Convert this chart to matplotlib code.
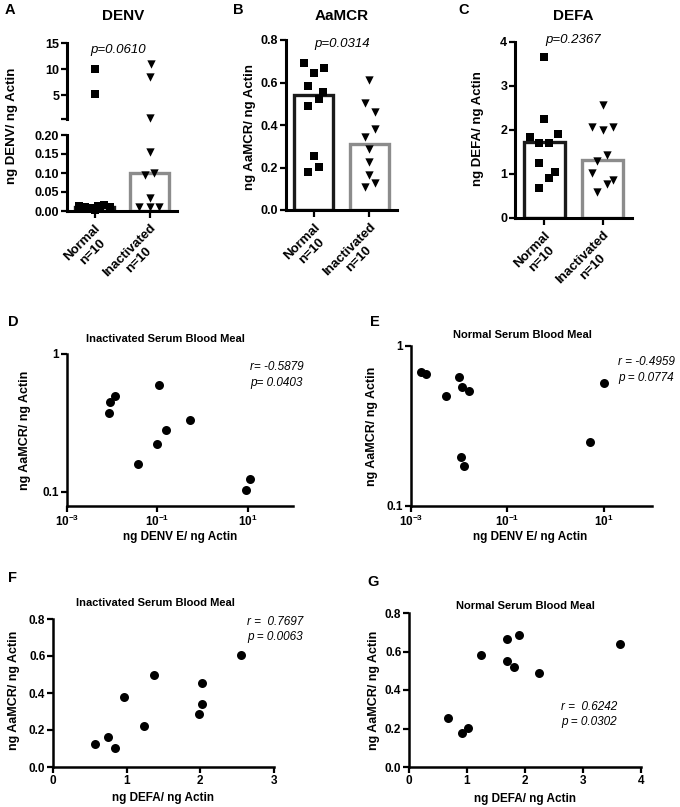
import matplotlib.pyplot as plt
from matplotlib.ticker import NullLocator

plt.rcParams['font.family'] = ['Liberation Sans', 'DejaVu Sans']
plt.rcParams['font.weight'] = 'bold'
plt.rcParams['mathtext.fontset'] = 'custom'
plt.rcParams['mathtext.rm'] = 'Liberation Sans:bold'
plt.rcParams['mathtext.bf'] = 'Liberation Sans:bold'

W, H = 680, 807

groups = ['Normal\nn=10', 'Inactivated\nn=10']
bar_edges = ['#1a1a1a', '#8c8c8c']

# A - DENV (bar = median)
denv_normal = [10.0, 5.2, 0.012, 0.010, 0.008, 0.003, 0.013, 0.015, 0.011, 0.005]
denv_normal_dx = [0, 0, -0.28, -0.17, -0.07, 0.0, 0.07, 0.17, 0.28, 0.1]
denv_inact = [11.0, 8.5, 0.6, 0.155, 0.10, 0.095, 0.035, 0.01, 0.01, 0.01]
denv_inact_dx = [0.03, 0, 0, 0, 0.09, -0.09, 0, -0.19, 0, 0.18]
denv_bar = [0.0105, 0.10]

# B - AaMCR
mcr_normal = [0.690, 0.646, 0.667, 0.585, 0.554, 0.521, 0.491, 0.254, 0.204, 0.179]
mcr_normal_dx = [-0.18, 0.0, 0.18, -0.095, 0.17, 0.095, -0.095, 0.0, 0.095, -0.095]
mcr_inact = [0.612, 0.505, 0.461, 0.383, 0.342, 0.289, 0.227, 0.166, 0.129, 0.110]
mcr_inact_dx = [0, -0.083, 0.095, 0.095, -0.083, 0, 0, 0, 0.095, -0.083]
mcr_bar = [0.54, 0.31]

# C - DEFA
defa_normal = [3.66, 2.26, 1.83, 1.90, 1.70, 1.70, 1.26, 1.04, 0.92, 0.68]
defa_normal_dx = [0, 0, -0.25, 0.24, -0.085, 0.085, -0.085, 0.18, 0.085, -0.085]
defa_inact = [2.57, 2.06, 2.00, 2.06, 1.43, 1.29, 1.02, 0.87, 0.78, 0.60]
defa_inact_dx = [0, -0.18, 0, 0.17, 0.08, -0.1, -0.18, 0.17, 0.08, -0.1]
defa_bar = [1.72, 1.32]

# D - inactivated, DENV E vs AaMCR
d_denv = [0.0084, 0.0089, 0.0113, 0.107, 0.532, 0.153, 0.097, 0.037, 8.9, 11.3]
d_mcr = [0.374, 0.449, 0.493, 0.600, 0.332, 0.283, 0.223, 0.160, 0.104, 0.124]

# E - normal, DENV E vs AaMCR
e_denv = [0.00159, 0.00205, 0.0052, 0.0098, 0.0116, 0.0161, 0.0110, 0.0123, 5.19, 10.0]
e_mcr = [0.684, 0.665, 0.489, 0.643, 0.552, 0.521, 0.201, 0.178, 0.252, 0.585]

# F - inactivated, DEFA vs AaMCR
f_defa = [0.566, 0.748, 0.847, 0.96, 1.237, 1.368, 1.985, 2.02, 2.02, 2.546]
f_mcr = [0.126, 0.163, 0.105, 0.376, 0.222, 0.500, 0.284, 0.338, 0.455, 0.607]

# G - normal, DEFA vs AaMCR
g_defa = [0.668, 0.909, 1.024, 1.243, 1.698, 1.698, 1.888, 1.807, 2.233, 3.643]
g_mcr = [0.252, 0.176, 0.202, 0.583, 0.664, 0.552, 0.684, 0.521, 0.490, 0.641]


def box(x0, y0, x1, y1):
    # pixel box (left, top, right, bottom) -> figure fraction rect
    return [x0 / W, 1 - y1 / H, (x1 - x0) / W, (y1 - y0) / H]


def ftext(x, y, s, **kw):
    fig.text(x / W, 1 - y / H, s, **kw)


def style(ax, lw=2.0, size=9):
    for side in ['top', 'right']:
        ax.spines[side].set_visible(False)
    for side in ['left', 'bottom']:
        ax.spines[side].set_linewidth(lw)
    ax.tick_params(direction='out', length=4, width=1.6, labelsize=size, pad=1.5)


fig = plt.figure(figsize=(W / 100, H / 100), dpi=100)


def dot_bars(ax, normal, ndx, inact, idx, bars, lo=None, hi=None):
    ax.bar([0, 1], bars, width=0.7, facecolor='white', edgecolor=bar_edges,
           linewidth=2.4, zorder=1)
    for k, (vals, dx, mk, sz) in enumerate([(normal, ndx, 's', 30),
                                             (inact, idx, 'v', 36)]):
        keep = [i for i, v in enumerate(vals)
                if (lo is None or v >= lo) and (hi is None or v <= hi)]
        ax.scatter([k + dx[i] for i in keep], [vals[i] for i in keep],
                   marker=mk, s=sz, color='black', zorder=3, clip_on=False,
                   linewidths=0)


def group_ticks(ax):
    ax.set_xlim(-0.5, 1.5)
    ax.set_xticks([0, 1])
    ax.set_xticklabels(groups, rotation=45, ha='right', va='top',
                       rotation_mode='anchor', multialignment='center',
                       fontsize=9.5)
    ax.tick_params(axis='x', length=5, pad=3)


# ---- A (broken axis)
axA_top = fig.add_axes(box(67, 43, 177, 119))
axA = fig.add_axes(box(67, 135, 177, 211))
dot_bars(axA_top, denv_normal, denv_normal_dx, denv_inact, denv_inact_dx,
         denv_bar, lo=0.3)
dot_bars(axA, denv_normal, denv_normal_dx, denv_inact, denv_inact_dx,
         denv_bar, hi=0.2)
for ax in (axA_top, axA):
    style(ax, 2.2)
axA_top.set_ylim(0.5, 15)
axA_top.set_yticks([0.5, 5, 10, 15])
axA_top.set_yticklabels(['', '5', '10', '15'])
axA_top.spines['bottom'].set_visible(False)
axA_top.set_xlim(-0.5, 1.5)
axA_top.set_xticks([])
axA.set_ylim(0, 0.2)
axA.set_yticks([0, 0.05, 0.10, 0.15, 0.20])
axA.set_yticklabels(['0.00', '0.05', '0.10', '0.15', '0.20'])
group_ticks(axA)

# ---- B
axB = fig.add_axes(box(286, 40, 397, 210))
dot_bars(axB, mcr_normal, mcr_normal_dx, mcr_inact, mcr_inact_dx, mcr_bar)
style(axB, 2.2)
axB.set_ylim(0, 0.8)
axB.set_yticks([0, 0.2, 0.4, 0.6, 0.8])
group_ticks(axB)

# ---- C
axC = fig.add_axes(box(515, 42, 632, 218))
dot_bars(axC, defa_normal, defa_normal_dx, defa_inact, defa_inact_dx, defa_bar)
style(axC, 2.2)
axC.set_ylim(0, 4)
axC.set_yticks([0, 1, 2, 3, 4])
group_ticks(axC)

ftext(5, 10, 'A', fontsize=10.5, va='center')
ftext(233, 10, 'B', fontsize=10.5, va='center')
ftext(458, 10, 'C', fontsize=10.5, va='center')
ftext(123, 16, 'DENV', fontsize=11, ha='center', va='center')
ftext(342, 16, 'AaMCR', fontsize=11, ha='center', va='center')
ftext(573, 16, 'DEFA', fontsize=11, ha='center', va='center')
ftext(118, 50, 'p=0.0610', fontsize=9.5, style='italic', weight='normal', ha='center', va='center')
ftext(342, 44, 'p=0.0314', fontsize=9.5, style='italic', weight='normal', ha='center', va='center')
ftext(573, 40, 'p=0.2367', fontsize=9.5, style='italic', weight='normal', ha='center', va='center')
ftext(12, 126, 'ng DENV/ ng Actin', fontsize=9.5, rotation=90, ha='center', va='center')
ftext(250, 127, 'ng AaMCR/ ng Actin', fontsize=9.5, rotation=90, ha='center', va='center')
ftext(478, 129, 'ng DEFA/ ng Actin', fontsize=9.5, rotation=90, ha='center', va='center')


# ---- D, E (log scatter)
def log_panel(ax, x, y, ylo):
    ax.scatter(x, y, s=42, color='black', zorder=3, clip_on=False, linewidths=0)
    ax.set_xscale('log')
    ax.set_yscale('log')
    ax.set_xlim(1e-3, 1e2)
    ax.set_ylim(ylo, 1)
    ax.set_xticks([1e-3, 1e-1, 1e1])
    ax.set_xticklabels([r'$10^{-3}$', r'$10^{-1}$', r'$10^{1}$'])
    ax.set_yticks([0.1, 1])
    ax.set_yticklabels(['0.1', '1'])
    ax.xaxis.set_minor_locator(NullLocator())
    ax.yaxis.set_minor_locator(NullLocator())
    style(ax, 1.8, 8.5)


axD = fig.add_axes(box(67, 354, 293, 506))
log_panel(axD, d_denv, d_mcr, 0.079)
axE = fig.add_axes(box(411, 346, 652, 506))
log_panel(axE, e_denv, e_mcr, 0.1)

ftext(8, 322, 'D', fontsize=10.5, va='center')
ftext(370, 322, 'E', fontsize=10.5, va='center')
ftext(165, 339, 'Inactivated Serum Blood Meal', fontsize=8, ha='center', va='center')
ftext(522, 335, 'Normal Serum Blood Meal', fontsize=8, ha='center', va='center')
ftext(250, 367, 'r= -0.5879', fontsize=8.5, style='italic', weight='normal', va='center')
ftext(250, 383, 'p= 0.0403', fontsize=8.5, style='italic', weight='normal', va='center')
ftext(618, 362, 'r = -0.4959', fontsize=8.5, style='italic', weight='normal', va='center')
ftext(618, 378, 'p = 0.0774', fontsize=8.5, style='italic', weight='normal', va='center')
ftext(180, 537, 'ng DENV E/ ng Actin', fontsize=8.5, ha='center', va='center')
ftext(530, 537, 'ng DENV E/ ng Actin', fontsize=8.5, ha='center', va='center')
ftext(25, 430, 'ng AaMCR/ ng Actin', fontsize=9, rotation=90, ha='center', va='center')
ftext(372, 426, 'ng AaMCR/ ng Actin', fontsize=9, rotation=90, ha='center', va='center')


# ---- F, G (linear scatter)
def lin_panel(ax, x, y, xmax):
    ax.scatter(x, y, s=42, color='black', zorder=3, clip_on=False, linewidths=0)
    ax.set_xlim(0, xmax)
    ax.set_ylim(0, 0.8)
    ax.set_xticks(range(xmax + 1))
    ax.set_yticks([0, 0.2, 0.4, 0.6, 0.8])
    ax.set_yticklabels(['0.0', '0.2', '0.4', '0.6', '0.8'])
    style(ax, 1.8, 8.5)


axF = fig.add_axes(box(53, 619, 274, 767))
lin_panel(axF, f_defa, f_mcr, 3)
axG = fig.add_axes(box(409, 613, 641, 767))
lin_panel(axG, g_defa, g_mcr, 4)

ftext(8, 578, 'F', fontsize=10.5, va='center')
ftext(367, 582, 'G', fontsize=10.5, va='center')
ftext(155, 603, 'Inactivated Serum Blood Meal', fontsize=8, ha='center', va='center')
ftext(525, 606, 'Normal Serum Blood Meal', fontsize=8, ha='center', va='center')
ftext(247, 622, 'r =  0.7697', fontsize=8.5, style='italic', weight='normal', va='center')
ftext(247, 637, 'p = 0.0063', fontsize=8.5, style='italic', weight='normal', va='center')
ftext(561, 707, 'r =  0.6242', fontsize=8.5, style='italic', weight='normal', va='center')
ftext(561, 722, 'p = 0.0302', fontsize=8.5, style='italic', weight='normal', va='center')
ftext(163, 798, 'ng DEFA/ ng Actin', fontsize=8.5, ha='center', va='center')
ftext(525, 799, 'ng DEFA/ ng Actin', fontsize=8.5, ha='center', va='center')
ftext(14, 690, 'ng AaMCR/ ng Actin', fontsize=9, rotation=90, ha='center', va='center')
ftext(374, 690, 'ng AaMCR/ ng Actin', fontsize=9, rotation=90, ha='center', va='center')

fig.savefig('out.png', dpi=100)
